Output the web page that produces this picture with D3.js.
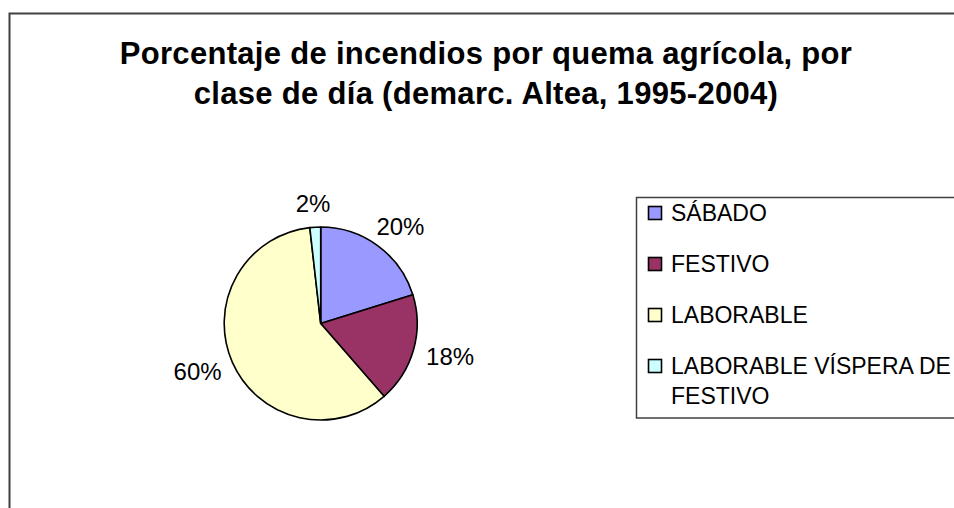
<!DOCTYPE html>
<html><head><meta charset="utf-8">
<script src="https://cdn.jsdelivr.net/npm/d3@7"></script>
<style>body{margin:0;background:#fff;overflow:hidden}</style>
</head><body>
<svg id="c" width="954" height="508"></svg>
<script>
const titleLines = ["Porcentaje de incendios por quema agrícola, por", "clase de día (demarc. Altea, 1995-2004)"];
const categories = ["SÁBADO", "FESTIVO", "LABORABLE", "LABORABLE VÍSPERA DE FESTIVO"];
const legendLines = [["SÁBADO"], ["FESTIVO"], ["LABORABLE"], ["LABORABLE VÍSPERA DE", "FESTIVO"]];
const values = [20.2, 18.4, 59.6, 1.8];
const labels = ["20%", "18%", "60%", "2%"];
const colors = ["#9999FF", "#993366", "#FFFFCC", "#CCFFFF"];

const svg = d3.select("#c");
const font = "'Liberation Sans', Arial, sans-serif";

svg.append("rect").attr("x", 9.5).attr("y", 13.5).attr("width", 1000).attr("height", 600)
  .attr("fill", "#fff").attr("stroke", "#404040").attr("stroke-width", 2);

svg.append("g").selectAll("text").data(titleLines).join("text")
  .attr("x", 486).attr("y", (d, i) => 64 + i * 40)
  .attr("text-anchor", "middle").attr("font-family", font).attr("font-weight", "bold")
  .attr("font-size", 31).attr("letter-spacing", 0.3).attr("fill", "#000").text(d => d);

const cx = 320.7, cy = 323.5, r = 96.5;
const pie = d3.pie().sort(null).value(d => d)(values);
const arc = d3.arc().innerRadius(0).outerRadius(r);
const g = svg.append("g").attr("transform", `translate(${cx},${cy})`);
g.selectAll("path").data(pie).join("path")
  .attr("d", arc).attr("fill", (d, i) => colors[i])
  .attr("stroke", "#000").attr("stroke-width", 1.6).attr("stroke-linejoin", "round");

// labels placed outside the circle: anchor point on a ring, box pushed outward
const ringR = r + 14, hw = 24, hh = 10;
g.selectAll("text").data(pie).join("text")
  .attr("transform", d => {
    const a = (d.startAngle + d.endAngle) / 2;
    const s = Math.sin(a), c = -Math.cos(a);
    return `translate(${ringR * s + hw * s},${ringR * c + hh * c})`;
  })
  .attr("text-anchor", "middle").attr("dy", "0.35em")
  .attr("font-family", font).attr("font-size", 24).attr("fill", "#000")
  .text((d, i) => labels[i]);

const lg = svg.append("g");
lg.append("rect").attr("x", 636.5).attr("y", 197.5).attr("width", 400).attr("height", 220.5)
  .attr("fill", "#fff").attr("stroke", "#404040").attr("stroke-width", 1.5);
const rowY = d3.scalePoint().domain(categories).range([213, 366]);
const items = lg.selectAll("g.item").data(categories).join("g").attr("class", "item")
  .attr("transform", d => `translate(0,${rowY(d)})`);
items.append("rect").attr("x", 648.5).attr("y", -6.5).attr("width", 13).attr("height", 13)
  .attr("fill", (d, i) => colors[i]).attr("stroke", "#000").attr("stroke-width", 1.6);
items.append("g").selectAll("text").data((d, i) => legendLines[i]).join("text")
  .attr("x", 671).attr("y", (d, j) => j * 30).attr("dy", "0.35em")
  .attr("font-family", font).attr("font-size", 23).attr("fill", "#000").text(d => d);
</script>
</body></html>
